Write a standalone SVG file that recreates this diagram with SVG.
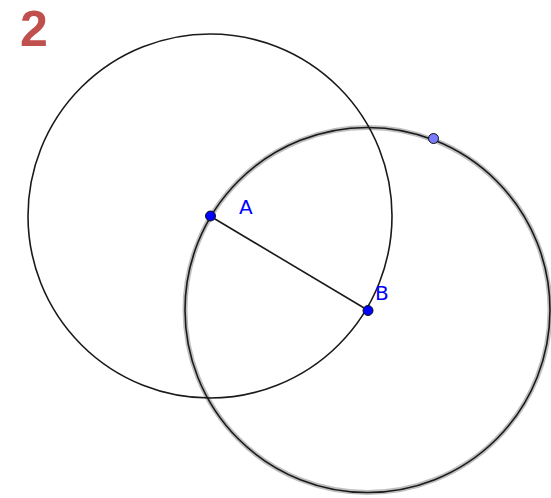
<svg xmlns="http://www.w3.org/2000/svg" width="551" height="498" viewBox="0 0 551 498">
<style>
.circ{fill:none;stroke:#1a1a1a;stroke-width:1.6}
.halo{fill:none;stroke:#000;stroke-opacity:0.25;stroke-width:5}
.seg{stroke:#1a1a1a;stroke-width:1.6}
.pt{fill:#0000ff;stroke:#101010;stroke-width:1}
.pt2{fill:#7b7bff;stroke:#101010;stroke-width:1}
.lbl{font-family:"DejaVu Sans",sans-serif;font-size:20px;fill:#0000ff}
.num{font-family:"Liberation Sans",sans-serif;font-weight:bold;font-size:50px;fill:#c0504d}
</style>
<rect width="551" height="498" fill="#ffffff"/>
<text class="num" x="20" y="46">2</text>
<g id="connectors">
<circle class="circ" cx="210" cy="216" r="182"/>
<circle class="halo" cx="367.5" cy="310" r="182.5"/>
<circle class="circ" cx="367.5" cy="310" r="182.5" stroke-width="2"/>
<line class="seg" x1="210" y1="216" x2="367.5" y2="310"/>
</g>
<g id="A"><circle class="pt" cx="210.5" cy="216" r="5"/><text class="lbl" x="239" y="214">A</text></g>
<g id="B"><circle class="pt" cx="368" cy="310.5" r="5"/><text class="lbl" x="375" y="300">B</text></g>
<g id="C"><circle class="pt2" cx="433.5" cy="138.5" r="5"/></g>
</svg>
